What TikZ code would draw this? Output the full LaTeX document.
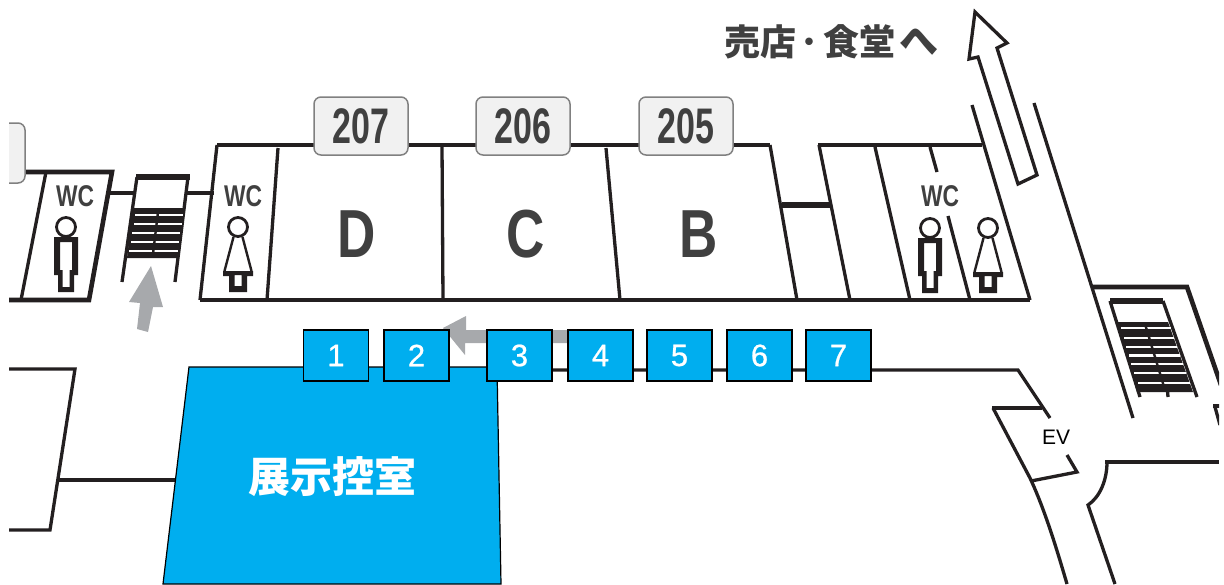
\documentclass[tikz,border=0pt]{standalone}
\usepackage{fontspec}
\usepackage{graphicx}
\usetikzlibrary{arrows.meta,positioning}
\setmainfont{Liberation Sans}
\newfontfamily\cjk{Noto Sans CJK JP}
\newfontfamily\numfont[FakeBold=0.7]{Liberation Sans}
\definecolor{wall}{HTML}{231F20}
\definecolor{roomblue}{HTML}{00AEEF}
\definecolor{guide}{HTML}{A7A9AC}
\definecolor{tagfill}{HTML}{F1F1F1}
\definecolor{inkgray}{HTML}{404040}

\begin{document}
\begin{tikzpicture}[x=1pt, y=-1pt, line join=miter,
    every node/.append style={align=center, inner sep=0, outer sep=0},
    wl/.style={draw=wall, line width=3.3pt},
    thick wl/.style={draw=wall, line width=4.6pt},
    heavy wl/.style={draw=wall, line width=6pt},
    slit/.style={draw=white, line width=2.6pt},
    guidearrow/.style={fill=guide, draw=none},
    tagbox/.style={draw=gray, line width=1.5pt, fill=tagfill, rounded corners=7pt,
        minimum width=94pt, minimum height=58pt, text=inkgray,
        font=\bfseries\fontsize{50}{50}\selectfont},
    roomlabel/.style={text=inkgray, font=\bfseries\fontsize{68}{68}\selectfont},
    wclabel/.style={text=inkgray, font=\bfseries\fontsize{30}{30}\selectfont},
    numbox/.style={draw=black, line width=1.5pt, fill=roomblue, text=white,
        minimum width=65pt, minimum height=51pt,
        font=\numfont\fontsize{31}{31}\selectfont},
    man/.pic={
        \draw [wall, line width=2.8pt] (0,0) circle (9.500);
        \fill [wall, even odd rule] (-12,10) -- (12,10) -- (12,48) -- (8,48)
            -- (8,65) -- (-8,65) -- (-8,48) -- (-12,48) -- cycle
            (-6,15) -- (6,15) -- (6,43) -- (3.500,43) -- (3.500,60) -- (-3.500,60)
            -- (-3.500,43) -- (-6,43) -- cycle;
    },
    woman/.pic={
        \draw [wall, line width=2.8pt] (0,0) circle (9.500);
        \draw [wall, line width=2.4pt] (-4.500,10) -- (-13.500,44) (4.500,10) -- (13.500,44);
        \fill [wall, even odd rule] (-15,44) -- (15,44) -- (15,49) -- (9,49) -- (9,65)
            -- (-9,65) -- (-9,49) -- (-15,49) -- cycle
            (-3.500,48) -- (3.500,48) -- (3.500,59) -- (-3.500,59) -- cycle;
    }]

   \useasboundingbox (0,0) rectangle (1224,584);
   \clip (9,0) rectangle (1219,584);

   % left wing
   \path [thick wl] (9,300) -- (89,300) -- (112,172) -- (25,172);
   \path [wl] (46,172) -- (21,300);
   \path [wl] (110,193) -- (136,193) (187,193) -- (214,193);
   \node [draw=gray, line width=1.5pt, fill=tagfill, rounded corners=7pt,
        minimum width=60pt, minimum height=60pt] (sidetag) at (-5,153) {};

   % stairs on the left
   \path [heavy wl] (136,177) -- (190,177);
   \path [wl] (137,177) -- (122,282) (188,177) -- (175,282);
   \fill [wall] (133,208) -- (185,208) -- (177,258) -- (127,258) -- cycle;
   \path [slit] (135,215) -- (183,215) (134,224) -- (182,224) (132,233) -- (180,233)
        (131,242) -- (179,242) (129,251) -- (178,251);
   \path [draw=wall, line width=2.4pt] (158,212) -- (153,254);

   % main row of rooms
   \path [thick wl] (217,145) -- (770,145) (818,145) -- (982,145);
   \path [thick wl] (200,300) -- (1030,300);
   \path [wl] (217,145) -- (200,300) (278,148) -- (267,300);
   \path [wl] (442,145) -- (443,300) (606,148) -- (620,300) (770,145) -- (797,300);
   \path [heavy wl] (782,205) -- (831,205);
   \path [wl] (819,145) -- (850,300) (875,147) -- (910,300);
   \path [wl] (930,147) -- (937,172) (948,216) -- (970,300);
   \path [wl] (972,105) -- (1030,300);
   \path [wl] (1034,103) -- (1133,418);

   % way out arrow
   \path [wl, line join=miter, miter limit=3] (975,12) -- (1007,43) -- (997,48) -- (1037,175)
        -- (1018,184) -- (978,57) -- (969,59) -- cycle;

   % stairs on the right
   \path [thick wl] (1092,287) -- (1187,287) -- (1221,385);
   \path [heavy wl] (1110,301) -- (1163,301);
   \path [wl] (1110,301) -- (1140,397) (1163,301) -- (1197,397);
   \path [wl] (1167,385) -- (1168,397);
   \fill [wall] (1117,322) -- (1168,322) -- (1193,392) -- (1137,392) -- cycle;
   \path [slit] (1121,328) -- (1171,328) (1124,338) -- (1174,338) (1126,347) -- (1177,347)
        (1129,355.500) -- (1180,355.500) (1131,364) -- (1183,364) (1134,373) -- (1186,373)
        (1138,383) -- (1190,383);
   \path [draw=wall, line width=2.4pt] (1145,324) -- (1165,390);
   \path [wl] (1215,407) -- (1220,425);
   \path [wl] (1213,406) -- (1220,406);

   % corridor
   \path [wl] (552,370) -- (1018,370) -- (1050,418);
   \path [thick wl] (992,408) -- (1042,408);
   \path [wl] (993,408) -- (1030,478) .. controls (1045,510) and (1057,550) .. (1067,584);
   \path [wl] (1031,481) -- (1077,472) -- (1067,455);
   \path [thick wl] (1105,462) -- (1219,462);
   \path [wl] (1107,462) .. controls (1107,480) and (1100,497) .. (1088,505) -- (1115,584);

   % exhibition room and lower left
   \path [wl] (9,369) -- (75,369) -- (50,530) -- (9,530);
   \path [wl] (57,480) -- (176,480);
   \path [draw=black, line width=1.2pt, fill=roomblue] (189,367) -- (497,367) -- (501,584)
        -- (163,584) -- cycle;
   \node [text=white, font=\cjk\bfseries\fontsize{42}{42}\selectfont] (room) at (332,477) {展示控室};

   % grey guide arrows
   \path [guidearrow] (151,266) -- (163,307) -- (153,307) -- (148,332) -- (137,329)
        -- (140,303) -- (129,302) -- cycle;
   \path [guidearrow] (443,328) -- (466,316) -- (466,330) -- (568,330) -- (568,343)
        -- (465,343) -- (465,355) -- cycle;

   % labels
   \node [text=inkgray, font=\cjk\bfseries\fontsize{36}{36}\selectfont, anchor=west] (shop) at (724,42) {売店\kern5pt ･\kern5pt 食堂\kern3pt {\fontsize{39}{39}\selectfont へ}};
   \node [tagbox] (T207) at (361,126) {\scalebox{.68}[1]{207}};
   \node [tagbox] (T206) at (523,126) {\scalebox{.68}[1]{206}};
   \node [tagbox] (T205) at (686,126) {\scalebox{.68}[1]{205}};
   \node [roomlabel] (D) at (357,234) {\scalebox{.78}[1]{D}};
   \node [roomlabel] (C) at (526,234) {\scalebox{.78}[1]{C}};
   \node [roomlabel] (B) at (699,234) {\scalebox{.78}[1]{B}};
   \node [wclabel] (wc1) at (75,196) {\scalebox{.76}[1]{WC}};
   \node [wclabel] (wc2) at (243,196) {\scalebox{.76}[1]{WC}};
   \node [wclabel] (wc3) at (940,196) {\scalebox{.76}[1]{WC}};
   \node [font=\fontsize{21}{21}\selectfont, fill=white, inner sep=1pt] (ev) at (1056,437) {EV};

   \pic at (66,227) {man};
   \pic at (238,227) {woman};
   \pic at (930,228) {man};
   \pic at (988,228) {woman};

   % numbered boxes
   \node [numbox] (N1) at (336,355.500) {1};
   \node [numbox, right=15.500pt of N1] (N2) {2};
   \node [numbox, right=38pt of N2] (N3) {3};
   \node [numbox, right=16pt of N3] (N4) {4};
   \node [numbox, right=14pt of N4] (N5) {5};
   \node [numbox, right=15pt of N5] (N6) {6};
   \node [numbox, right=14pt of N6] (N7) {7};
\end{tikzpicture}
\end{document}
